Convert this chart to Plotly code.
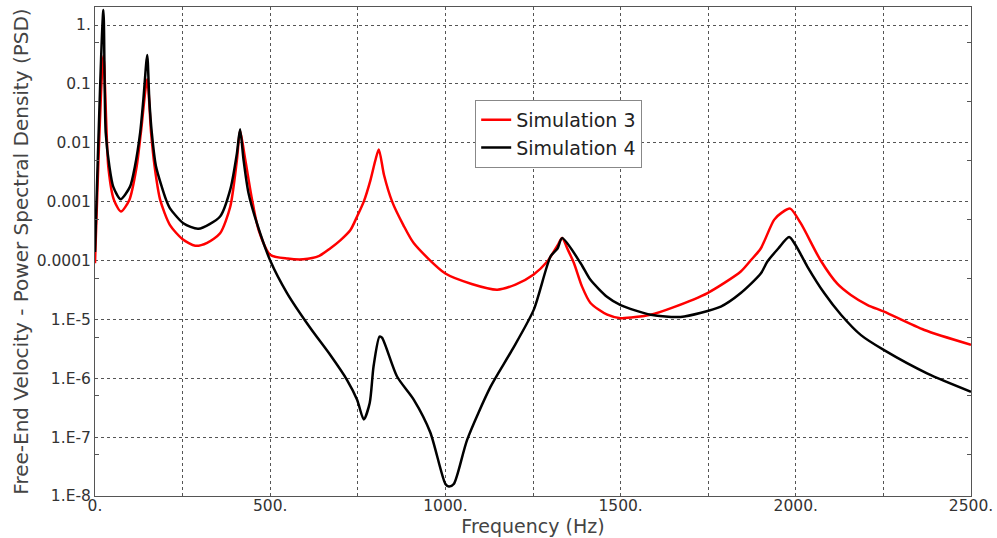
import plotly.graph_objects as go

# Simulation 3 (red)
freq_s3 = [0, 24, 38, 54, 74, 98, 119, 131, 149, 160, 170, 186, 214, 250, 286, 320, 357, 386, 405, 414,
           429, 448, 467, 500, 550, 594, 640, 671, 700, 729, 748, 767, 786, 800, 810, 825, 848, 880, 910,
           1000, 1075, 1148, 1200, 1252, 1290, 1320, 1333, 1350, 1367, 1390, 1414, 1462, 1500, 1586,
           1650, 1748, 1843, 1871, 1900, 1938, 1960, 1984, 2014, 2071, 2119, 2157, 2205, 2252, 2367, 2500]
psd_s3 = [9e-5, 0.3, 3.9e-3, 1.07e-3, 6.8e-4, 1.07e-3, 4e-3, 0.015, 0.12, 0.015, 4e-3, 1.07e-3, 4e-4,
          2.3e-4, 1.78e-4, 2.0e-4, 2.9e-4, 8.2e-4, 5.1e-3, 0.016,
          5.1e-3, 1.1e-3, 3.3e-4, 1.25e-4, 1.08e-4, 1.05e-4, 1.2e-4, 1.6e-4, 2.2e-4, 3.3e-4, 5.6e-4,
          1.0e-3, 2.3e-3, 5e-3, 7.7e-3, 2.8e-3, 1e-3, 4e-4, 1.96e-4,
          6e-5, 4.0e-5, 3.2e-5, 3.9e-5, 5.8e-5, 9.5e-5, 1.8e-4, 2.4e-4, 1.5e-4, 9e-5, 3.6e-5, 1.9e-5,
          1.2e-5, 1.05e-5, 1.2e-5,
          1.6e-5, 2.8e-5, 6.5e-5, 1.0e-4, 1.6e-4, 4.9e-4, 6.5e-4, 7.6e-4, 4.3e-4, 1.0e-4, 4.0e-5, 2.6e-5,
          1.75e-5, 1.35e-5, 6.6e-6, 3.7e-6]

# Simulation 4 (black)
freq_s4 = [0, 24, 30.5, 41, 52, 73, 100, 114, 129, 138, 149, 155, 162, 174, 203, 214, 252, 295, 357, 386,
           405, 414, 424, 438, 462, 500, 548, 614, 671, 719, 748, 767, 784, 795, 812, 819, 862, 910, 957,
           1000, 1010, 1024, 1062, 1129, 1190, 1252, 1300, 1320, 1333, 1386, 1414, 1462, 1500, 1586,
           1671, 1786, 1843, 1900, 1919, 1950, 1981, 2000, 2033, 2081, 2129, 2186, 2252, 2376, 2500]
psd_s4 = [1.4e-4, 1.8, 0.015, 4e-3, 1.8e-3, 1.1e-3, 1.8e-3, 4e-3, 0.015, 0.054, 0.31, 0.054, 0.015,
          4e-3, 1.07e-3, 7.7e-4, 4.3e-4, 3.45e-4, 5.6e-4, 1.6e-3,
          6.6e-3, 0.017, 5.1e-3, 1.4e-3, 4.3e-4, 1e-4, 2.8e-5, 7.2e-6, 2.5e-6, 9.4e-7, 4.3e-7, 2.0e-7,
          3.8e-7, 1.6e-6, 5.1e-6, 4.9e-6, 1.07e-6, 4.3e-7, 1.2e-7,
          1.6e-8, 1.45e-8, 1.6e-8, 9e-8, 7.2e-7, 3e-6, 1.45e-5, 1.17e-4, 1.6e-4, 2.4e-4, 9e-5, 4.7e-5,
          2.4e-5, 1.75e-5, 1.2e-5,
          1.1e-5, 1.65e-5, 2.8e-5, 6e-5, 9.6e-5, 1.6e-4, 2.5e-4, 1.8e-4, 7.9e-5, 2.8e-5, 1.2e-5, 5.4e-6,
          3e-6, 1.2e-6, 5.9e-7]

x_tickvals = [0, 250, 500, 750, 1000, 1250, 1500, 1750, 2000, 2250, 2500]
x_ticktext = ["0.", "", "500.", "", "1000.", "", "1500.", "", "2000.", "", "2500."]
y_tickvals = [1e-8, 1e-7, 1e-6, 1e-5, 1e-4, 1e-3, 1e-2, 1e-1, 1]
y_ticktext = ["1.E-8", "1.E-7", "1.E-6", "1.E-5", "0.0001", "0.001", "0.01", "0.1", "1."]
y_minorvals = [5e-8, 5e-7, 5e-6, 5e-5, 5e-4, 5e-3, 5e-2, 5e-1]

FONT = "DejaVu Sans"

fig = go.Figure()
fig.add_trace(go.Scatter(x=freq_s3, y=psd_s3, mode="lines", name="Simulation 3",
                         line=dict(color="#ff0000", width=2.5, shape="spline", smoothing=0.7)))
fig.add_trace(go.Scatter(x=freq_s4, y=psd_s4, mode="lines", name="Simulation 4",
                         line=dict(color="#000000", width=2.5, shape="spline", smoothing=0.7)))

grid = dict(showgrid=True, gridcolor="#555555", gridwidth=1, griddash="3px,3px")

fig.update_layout(
    width=997, height=538,
    margin=dict(l=95, r=26, t=7, b=42),
    paper_bgcolor="white", plot_bgcolor="white",
    font=dict(family=FONT, size=15.5, color="#333333"),
    showlegend=True,
    legend=dict(x=0.434, y=0.81, xanchor="left", yanchor="top",
                bgcolor="white", bordercolor="#888888", borderwidth=1,
                font=dict(family=FONT, size=19, color="#222222"),
                tracegroupgap=0, itemwidth=30),
    xaxis=dict(range=[0, 2500], tickmode="array", tickvals=x_tickvals, ticktext=x_ticktext,
               ticks="", automargin=False, ticklabelstandoff=-5,
               showline=True, linecolor="#555555", linewidth=1, mirror=True,
               zeroline=False,
               title=dict(text="Frequency (Hz)", font=dict(family=FONT, size=19, color="#444444"),
                          standoff=0),
               tickfont=dict(family=FONT, size=15.5, color="#333333"), **grid),
    yaxis=dict(type="log", range=[-8, 0.306], tickmode="array", tickvals=y_tickvals,
               ticktext=y_ticktext, ticks="", showline=True, linecolor="#555555", linewidth=1,
               mirror="allticks", zeroline=False, automargin=False,
               minor=dict(tickvals=y_minorvals, ticks="inside", ticklen=4, tickcolor="#555555",
                          showgrid=False),
               title=dict(text="Free-End Velocity - Power Spectral Density (PSD)",
                          font=dict(family=FONT, size=20, color="#444444"), standoff=2),
               tickfont=dict(family=FONT, size=15.5, color="#333333"), **grid),
)

fig.write_html("out.html")
